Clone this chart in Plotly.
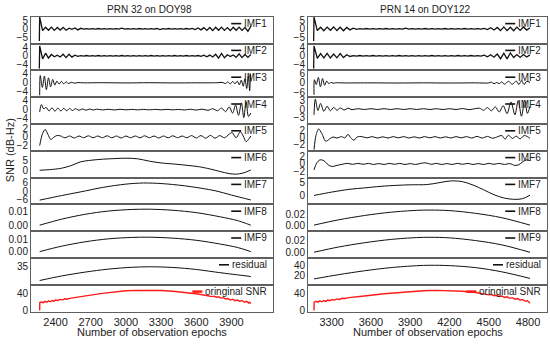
import plotly.graph_objects as go

# ------------------------------------------------------------------ data
TITLES = ["PRN 32 on DOY98", "PRN 14 on DOY122"]
X_TITLE = "Number of observation epochs"
Y_TITLE = "SNR (dB-Hz)"
PANEL_NAMES = ["IMF1", "IMF2", "IMF3", "IMF4", "IMF5", "IMF6", "IMF7",
               "IMF8", "IMF9", "residual", "oringinal SNR"]

X_TICKS_L = [2400, 2700, 3000, 3300, 3600, 3900]
X_TICKS_R = [3300, 3600, 3900, 4200, 4500, 4800]
X_RANGE_L = [2191, 4254]
X_RANGE_R = [3119, 4945]

# epochs of the densely sampled (noise-like) components
NOISE_EPOCHS_L = list(range(2265, 4066, 25))
NOISE_EPOCHS_R = list(range(3165, 4816, 25))

# ---- left satellite: PRN 32 on DOY98
IMF1_L_START = [(2262, -7.0)]
IMF1_L_VALUES = [6.8, -1.0, 0.9, -0.8, 1.0, -0.9, 0.8, -0.7, 0.9, -0.8,
                 0.4, -0.3, 0.5, -0.6, 0.3, -0.15, 0.15, -0.2, 0.15, -0.15,
                 0.2, -0.15, 0.15, -0.2, 0.15, -0.15, 0.15, -0.2, 0.4, -0.15,
                 0.15, -0.2, 0.15, -0.15, 0.2, -0.15, 0.15, -0.2, 0.15, -0.15,
                 0.2, -0.4, 0.15, -0.15, 0.2, -0.15, 0.15, -0.2, 0.15, -0.15,
                 0.2, -0.15, 0.3, -0.4, 0.5, -0.6, 0.7, -0.9, 0.8, -1.0,
                 0.9, -0.8, 1.0, -0.9, 0.7, -1.0, 0.9, -0.8, 1.0, -0.9,
                 0.8, -1.4, 1.4]
IMF2_L_START = [(2262, -5.8)]
IMF2_L_VALUES = [4.5, -1.4, 1.2, -1.0, 0.6, -0.4, 0.3, -0.5, 0.7, -0.8,
                 0.7, -0.6, 0.3, -0.2,
                 0.12, -0.1, 0.15, -0.12, 0.1, -0.12, 0.15, -0.1, 0.12, -0.15,
                 0.1, -0.12, 0.12, -0.1, 0.15, -0.12, 0.1, -0.15, 0.12, -0.1,
                 0.12, -0.15, 0.1, -0.12, 0.15, -0.1, 0.12, -0.12, 0.1, -0.15,
                 0.12, -0.1, 0.15, -0.12, 0.1, -0.12, 0.15, -0.1, 0.12, -0.15,
                 0.15,
                 -0.25, 0.3, -0.4, 0.35, -0.5, 0.7, -1.0, 1.1, -0.9, 0.5,
                 -0.3, 0.4, -0.7, 0.9, -0.8, 0.6, -0.7, 0.6]
IMF3_L = [(2265, -5.5), (2270, 3.2), (2288, -2.0), (2305, 3.0), (2322, -3.0),
          (2340, 2.2), (2358, -1.8), (2376, 1.5), (2394, -1.0), (2412, 0.8),
          (2430, -0.6), (2450, 0.6), (2470, -0.4), (2490, 0.4), (2512, -0.3),
          (2535, 0.25), (2560, -0.15), (2590, 0.1), (2640, 0.0), (2800, 0.05),
          (3000, -0.05), (3200, 0.05), (3400, -0.05), (3600, 0.0), (3780, 0.05),
          (3820, 0.2), (3850, -0.3), (3870, 0.4), (3890, -0.5), (3910, 0.6),
          (3930, -0.4), (3950, 0.7), (3967, -0.9), (3984, 1.2), (4000, -1.5),
          (4015, 1.8), (4030, -2.5), (4044, 3.0), (4055, -3.5), (4062, 4.0),
          (4065, 0.5)]
IMF4_L = [(2265, -1.0), (2280, 2.2), (2300, 0.3), (2320, 1.0), (2345, -0.6),
          (2370, 0.8), (2395, -0.7), (2420, 0.7), (2445, -0.6), (2470, 0.6),
          (2495, -0.5), (2520, 0.5), (2545, -0.4), (2570, 0.4), (2600, -0.3),
          (2630, 0.3), (2660, -0.25), (2690, 0.25), (2720, -0.2), (2750, 0.2),
          (2800, -0.15), (2850, 0.15), (2900, -0.15), (2950, 0.15), (3000, -0.1),
          (3050, 0.1), (3100, -0.1), (3150, 0.1), (3200, -0.1), (3250, 0.1),
          (3300, -0.1), (3350, 0.1), (3400, -0.1), (3450, 0.1), (3500, -0.15),
          (3550, 0.15), (3600, -0.2), (3650, 0.2), (3700, -0.3), (3740, 0.4),
          (3780, -0.5), (3815, 0.7), (3850, -0.9), (3880, 1.2), (3910, -1.5),
          (3935, 2.0), (3960, -2.5), (3985, 3.0), (4005, -3.5), (4025, 3.5),
          (4045, -3.0), (4065, -1.5)]
IMF5_L = [(2265, -2.0), (2290, 0.8), (2312, 1.7), (2335, 0.6), (2360, -0.6),
          (2385, -0.1), (2410, 0.3), (2440, 0.25), (2480, -0.2), (2520, 0.2),
          (2560, -0.25), (2600, 0.2), (2640, -0.2), (2680, 0.25), (2720, -0.2),
          (2760, 0.2), (2800, -0.2), (2840, 0.25), (2880, -0.2), (2920, 0.2),
          (2960, -0.25), (3000, 0.2), (3040, -0.2), (3080, 0.2), (3120, -0.2),
          (3160, 0.25), (3200, -0.2), (3240, 0.2), (3280, -0.25), (3320, 0.2),
          (3360, -0.2), (3400, 0.25), (3440, -0.2), (3480, 0.2), (3520, -0.2),
          (3560, 0.3), (3600, -0.25), (3640, 0.3), (3680, -0.3), (3720, 0.35),
          (3760, -0.3), (3800, 0.3), (3840, -0.2), (3880, 0.6), (3905, 1.0),
          (3940, -0.2), (3975, 1.2), (4000, 0.2), (4025, -1.1), (4045, -0.6),
          (4065, 0.2)]
IMF6_L = [(2265, 0.0), (2350, 0.3), (2450, 1.0), (2540, 2.5), (2610, 4.2),
          (2680, 4.9), (2780, 5.5), (2900, 5.9), (3000, 6.1), (3100, 5.8),
          (3200, 4.6), (3300, 3.7), (3420, 3.1), (3520, 2.5), (3620, 1.8),
          (3720, 0.6), (3800, -0.6), (3880, -1.7), (3940, -2.0), (4000, -1.4),
          (4065, 0.1)]
IMF7_L = [(2265, -6.2), (2450, -3.0), (2610, -0.4), (2800, 2.8), (3000, 5.2),
          (3150, 6.0), (3300, 5.6), (3500, 4.0), (3760, 0.5), (3900, -2.6),
          (4065, -6.1)]
IMF8_L = [(2265, 0.0), (2450, 0.0045), (2650, 0.0082), (2850, 0.0107),
          (3050, 0.0119), (3200, 0.0121), (3400, 0.0113), (3600, 0.0095),
          (3800, 0.0064), (3950, 0.0035), (4065, 0.0)]
IMF9_L = [(2265, 0.0), (2450, 0.0045), (2650, 0.0082), (2850, 0.0107),
          (3050, 0.0119), (3200, 0.0121), (3400, 0.0113), (3600, 0.0095),
          (3800, 0.0064), (3950, 0.0035), (4065, 0.0)]
RESIDUAL_L = [(2265, 26.8), (2450, 29.5), (2650, 31.8), (2850, 33.6),
              (3050, 34.7), (3200, 35.0), (3400, 34.6), (3600, 33.4),
              (3800, 31.5), (3950, 30.2), (4065, 29.2)]
SNR_L = [(2265, 0.0), (2266, 18.5), (2280, 19.5), (2295, 18.0), (2310, 21.0),
         (2325, 19.0), (2340, 22.0), (2355, 20.0), (2370, 23.0), (2385, 21.5),
         (2400, 24.0), (2420, 23.0), (2440, 25.5), (2460, 24.5), (2480, 27.0),
         (2500, 26.0), (2520, 28.0), (2550, 29.0), (2600, 31.0), (2700, 35.5),
         (2800, 39.5), (2900, 43.0), (3000, 45.5), (3100, 46.5), (3200, 46.8),
         (3300, 46.0), (3400, 44.5), (3500, 42.0), (3600, 38.5), (3700, 34.0),
         (3730, 32.0), (3750, 33.0), (3770, 30.5), (3790, 31.5), (3810, 28.5),
         (3830, 29.5), (3850, 26.5), (3870, 27.5), (3890, 24.0), (3910, 26.0),
         (3930, 22.5), (3950, 24.0), (3970, 21.0), (3990, 23.0), (4010, 19.0),
         (4030, 21.0), (4045, 17.0), (4055, 19.0), (4065, 16.0)]

# ---- right satellite: PRN 14 on DOY122
IMF1_R_START = [(3162, -7.0)]
IMF1_R_VALUES = [6.8, -1.0, 0.9, -1.1, 1.0, -0.8, 1.1, -1.0, 0.9, -1.1,
                 0.8, -0.6, 0.4, -0.3,
                 0.15, -0.15, 0.2, -0.15, 0.15, -0.2, 0.15, -0.15, 0.2, -0.15,
                 0.15, -0.2, 0.15, -0.15, 0.4, -0.15, 0.15, -0.2, 0.15, -0.15,
                 0.2, -0.15, 0.15, -0.2, 0.15, -0.15, 0.2, -0.15, 0.15, -0.2,
                 0.15, -0.15, 0.2, -0.15, 0.15, -0.2, 0.15, -0.15, 0.3, -0.4,
                 0.6, -0.7, 0.8,
                 -1.0, 1.1, -1.0, 0.9, -1.1, 1.0, -0.9, 1.1, -0.7, 0.6]
IMF2_R_START = [(3162, -5.8)]
IMF2_R_VALUES = [4.5, -1.1, 1.0, -0.9, 1.1, -1.0, 0.8, -0.9, 1.0, -0.8,
                 0.5, -0.3,
                 0.12, -0.1, 0.15, -0.12, 0.1, -0.12, 0.15, -0.1, 0.12, -0.15,
                 0.1, -0.12, 0.12, -0.1, 0.15, -0.12, 0.1, -0.15, 0.12, -0.1,
                 0.12, -0.15, 0.1, -0.12, 0.15, -0.1, 0.12, -0.12, 0.1, -0.15,
                 0.12, -0.1, 0.15, -0.12, 0.1, -0.12, 0.15, -0.1, 0.12, -0.15,
                 0.3, -0.4, 0.5, -0.6, 0.8,
                 -1.3, 1.2, -1.4, 1.3, -0.8, 0.6, -0.7, 0.6, -0.5, 0.45]
IMF3_R = [(3165, -7.5), (3168, 2.0), (3182, -1.0), (3198, 3.5), (3214, -2.5),
          (3230, 2.8), (3246, -1.5), (3262, 1.2), (3278, -0.5), (3294, 0.4),
          (3310, -0.2), (3330, 0.1), (3400, 0.0), (3600, 0.05), (3800, -0.05),
          (4000, 0.05), (4200, -0.05), (4400, 0.05), (4500, 0.0), (4520, 0.5),
          (4540, -0.5), (4560, 0.3), (4580, -0.4), (4600, 0.6), (4620, -0.8),
          (4650, 1.0), (4680, -0.8), (4710, 1.2), (4730, -1.0), (4750, 1.5),
          (4770, -1.0), (4790, 1.0), (4815, 0.3)]
IMF4_R = [(3165, -2.0), (3175, 3.5), (3195, -0.5), (3215, 2.0), (3240, -0.8),
          (3265, 1.0), (3290, -0.6), (3315, 0.6), (3340, -0.4), (3365, 0.4),
          (3395, -0.3), (3425, 0.3), (3455, -0.2), (3500, 0.15), (3550, -0.15),
          (3600, 0.15), (3650, -0.15), (3700, 0.15), (3750, -0.15), (3800, 0.15),
          (3850, -0.15), (3900, 0.15), (3950, -0.15), (4000, 0.15), (4050, -0.15),
          (4100, 0.15), (4150, -0.15), (4200, 0.15), (4250, -0.15), (4300, 0.2),
          (4350, -0.2), (4400, 0.2), (4430, 0.3), (4460, -0.4), (4490, 0.5),
          (4520, -0.6), (4550, 0.8), (4580, -1.0), (4610, 1.2), (4640, -1.6),
          (4670, 2.5), (4700, -2.0), (4725, 3.0), (4750, -2.5), (4775, 3.2),
          (4795, -1.5), (4815, 1.0)]
IMF5_R = [(3165, -3.4), (3180, 0.5), (3200, 2.3), (3225, 1.0), (3255, -1.1),
          (3285, -0.4), (3310, 0.1), (3340, -0.2), (3375, 0.2), (3400, -0.15),
          (3425, 0.8), (3445, -0.1), (3470, -0.8), (3495, 0.1), (3530, 0.2),
          (3570, -0.15), (3610, 0.2), (3650, -0.2), (3690, 0.15), (3730, -0.2),
          (3770, 0.2), (3810, -0.15), (3850, 0.2), (3890, -0.2), (3930, 0.15),
          (3970, -0.2), (4010, 0.2), (4050, -0.15), (4090, 0.2), (4130, -0.2),
          (4170, 0.15), (4210, -0.2), (4250, 0.2), (4290, -0.15), (4330, 0.2),
          (4370, -0.2), (4410, 0.25), (4450, -0.2), (4490, 0.25), (4530, -0.25),
          (4570, 0.2), (4600, 0.5), (4625, -0.5), (4650, 0.6), (4680, -0.3),
          (4710, 0.3), (4740, -0.4), (4770, 0.5), (4795, 0.2), (4815, -0.3)]
IMF6_R = [(3165, -1.6), (3185, 0.2), (3210, 1.1), (3240, 0.9), (3275, -0.3),
          (3305, -0.7), (3340, -0.4), (3380, -0.1), (3420, 0.15), (3460, -0.1),
          (3500, 0.15), (3540, -0.1), (3580, 0.15), (3620, -0.15), (3660, 0.1),
          (3700, -0.15), (3740, 0.15), (3780, -0.1), (3820, 0.15), (3860, -0.15),
          (3900, 0.1), (3940, -0.15), (3980, 0.15), (4020, 0.3), (4060, -0.1),
          (4100, 0.15), (4140, -0.15), (4180, 0.1), (4220, -0.15), (4260, 0.15),
          (4300, -0.1), (4340, 0.15), (4380, -0.15), (4420, 0.1), (4460, -0.15),
          (4500, 0.15), (4540, -0.1), (4580, 0.15), (4620, -0.15), (4660, 0.1),
          (4700, -0.4), (4730, -0.2), (4760, 0.6), (4790, 1.1), (4815, 0.9)]
IMF7_R = [(3165, 0.0), (3300, 1.3), (3440, 2.4), (3550, 2.9), (3670, 3.5),
          (3800, 3.9), (3900, 4.1), (4030, 4.2), (4120, 4.9), (4210, 5.6),
          (4300, 5.3), (4380, 4.0), (4460, 2.2), (4540, 0.3), (4610, -0.9),
          (4700, -1.5), (4760, -1.2), (4815, 0.1)]
IMF8_R = [(3165, 0.0), (3350, 0.0095), (3550, 0.0175), (3750, 0.0235),
          (3950, 0.027), (4050, 0.0275), (4200, 0.0265), (4400, 0.0215),
          (4600, 0.0135), (4815, 0.0)]
IMF9_R = [(3165, 0.0), (3350, 0.009), (3550, 0.0165), (3750, 0.0222),
          (3950, 0.0255), (4050, 0.026), (4200, 0.025), (4400, 0.0203),
          (4600, 0.0128), (4815, 0.0)]
RESIDUAL_R = [(3165, 14.0), (3350, 22.0), (3550, 29.5), (3750, 35.5),
              (3950, 39.2), (4050, 40.0), (4200, 39.3), (4400, 35.5),
              (4600, 27.5), (4815, 15.0)]
SNR_R = [(3165, 0.0), (3166, 19.0), (3180, 21.0), (3195, 19.0), (3210, 22.0),
         (3225, 20.0), (3240, 23.0), (3255, 21.0), (3270, 24.0), (3285, 22.5),
         (3300, 25.0), (3320, 24.0), (3340, 26.5), (3360, 25.5), (3380, 28.0),
         (3400, 27.5), (3430, 29.5), (3470, 30.5), (3550, 33.5), (3700, 38.5),
         (3850, 42.5), (4000, 45.5), (4100, 46.5), (4200, 46.0), (4300, 44.5),
         (4400, 41.5), (4480, 38.0), (4500, 36.0), (4520, 37.0), (4540, 34.0),
         (4560, 35.0), (4580, 32.0), (4600, 33.5), (4620, 30.0), (4640, 31.5),
         (4660, 28.0), (4680, 29.5), (4700, 26.0), (4720, 27.5), (4740, 24.0),
         (4760, 25.0), (4780, 21.0), (4795, 22.5), (4805, 19.0), (4815, 17.0)]

# y-axis tick labels and ranges per panel
YTICKS_L = [["5", "0", "-5"], ["4", "0", "-4"], ["4", "0", "-4"], ["4", "0", "-4"],
            ["2", "0", "-2"], ["5", "0"], ["6", "0", "-6"], ["0.01", "0.00"],
            ["0.01", "0.00"], ["35"], ["40", "0"]]
YRANGE_L = [[-8.5, 7.0], [-6.6, 5.6], [-6.3, 5.5], [-6.3, 5.5], [-3.2, 3.0],
            [-3.7, 9.9], [-9.2, 9.9], [-0.0045, 0.0158], [-0.0053, 0.0172],
            [24.3, 40.3], [-2.5, 59.5]]
YTICKS_R = [["5", "0", "-5"], ["4", "0", "-4"], ["6", "0", "-6"], ["3", "0", "-3"],
            ["2", "0", "-2"], ["2", "0", "-2"], ["5", "0"], ["0.02", "0.00"],
            ["0.02", "0.00"], ["40", "20"], ["40", "0"]]
YRANGE_R = [[-8.5, 7.0], [-6.6, 5.6], [-9.0, 8.0], [-5.2, 4.2], [-3.7, 3.7],
            [-3.7, 3.6], [-3.4, 6.9], [-0.011, 0.038], [-0.0098, 0.0367],
            [3.0, 54.0], [-2.5, 59.5]]

IMF1_L = IMF1_L_START + list(zip(NOISE_EPOCHS_L, IMF1_L_VALUES))
IMF2_L = IMF2_L_START + list(zip(NOISE_EPOCHS_L, IMF2_L_VALUES))
IMF1_R = IMF1_R_START + list(zip(NOISE_EPOCHS_R, IMF1_R_VALUES))
IMF2_R = IMF2_R_START + list(zip(NOISE_EPOCHS_R, IMF2_R_VALUES))

SERIES_L = [IMF1_L, IMF2_L, IMF3_L, IMF4_L, IMF5_L, IMF6_L, IMF7_L, IMF8_L,
            IMF9_L, RESIDUAL_L, SNR_L]
SERIES_R = [IMF1_R, IMF2_R, IMF3_R, IMF4_R, IMF5_R, IMF6_R, IMF7_R, IMF8_R,
            IMF9_R, RESIDUAL_R, SNR_R]

# ------------------------------------------------------------------ layout / style
W, H = 550, 344
FONT = "Arial, Liberation Sans, sans-serif"
COL_PX = [(31, 273), (308, 547)]
TOP_PX, BOT_PX = 15, 315
NROW = 11
ROW_H = (BOT_PX - TOP_PX) / NROW
FRAME = "#5f5f5f"
LINE_BLACK = "#111111"
RED = "#ff1a1a"
TXT = "#222222"

CW = {'I': 278, 'M': 833, 'F': 611, 'r': 333, 'e': 556, 's': 500, 'i': 222,
      'd': 556, 'u': 556, 'a': 556, 'l': 222, 'o': 556, 'n': 556, 'g': 556,
      ' ': 278, 'S': 667, 'N': 722, 'R': 722}


def text_w(s, size):
    return sum(CW.get(ch, 556) for ch in s) * size / 1000.0


cols = [
    dict(series=SERIES_L, yticks=YTICKS_L, yrange=YRANGE_L, xr=X_RANGE_L, xt=X_TICKS_L),
    dict(series=SERIES_R, yticks=YTICKS_R, yrange=YRANGE_R, xr=X_RANGE_R, xt=X_TICKS_R),
]
SMOOTH = {2, 3, 4, 5, 6, 7, 8, 9}
NOISY = {0, 1}

fig = go.Figure()
layout = dict(width=W, height=H, margin=dict(l=0, r=0, t=0, b=0),
              paper_bgcolor="white", plot_bgcolor="white", showlegend=False,
              font=dict(family=FONT, color=TXT, size=11))
shapes, annos = [], []

for c, col in enumerate(cols):
    x0p, x1p = COL_PX[c]
    for r in range(NROW):
        n = c * NROW + r + 1
        pts = col['series'][r]
        xs = [p[0] for p in pts]
        ys = [p[1] for p in pts]
        is_snr = (r == NROW - 1)
        fig.add_trace(go.Scatter(
            x=xs, y=ys, mode='lines', name=PANEL_NAMES[r],
            line=dict(color=RED if is_snr else LINE_BLACK,
                      width=1.4 if is_snr else (1.3 if r in NOISY else 1.0),
                      shape='spline' if r in SMOOTH else 'linear',
                      smoothing=0.9),
            xaxis=f'x{n}', yaxis=f'y{n}', hoverinfo='skip'))

        top = TOP_PX + r * ROW_H
        bot = top + ROW_H
        xk = 'xaxis' if n == 1 else f'xaxis{n}'
        yk = 'yaxis' if n == 1 else f'yaxis{n}'
        layout[xk] = dict(domain=[x0p / W, x1p / W], anchor=f'y{n}', range=col['xr'],
                          showline=True, mirror=True, linecolor=FRAME, linewidth=1,
                          showgrid=False, zeroline=False, ticks='',
                          tickvals=col['xt'], showticklabels=(r == NROW - 1),
                          tickfont=dict(size=11, family=FONT, color=TXT))
        labels = col['yticks'][r]
        layout[yk] = dict(domain=[1 - bot / H, 1 - top / H], anchor=f'x{n}',
                          range=col['yrange'][r], showline=True, mirror=True,
                          linecolor=FRAME, linewidth=1, showgrid=False,
                          zeroline=False, ticks='',
                          tickvals=[float(t) for t in labels],
                          ticktext=[t.replace('-', '\u2212') for t in labels],
                          tickfont=dict(size=10, family=FONT, color=TXT))

        # per-panel legend: short line + label, top-right of the panel
        name = PANEL_NAMES[r]
        tw = text_w(name, 10)
        tx_right = x1p - 4
        ty = top + 7
        lx1 = tx_right - tw - 5
        lx0 = lx1 - 10
        shapes.append(dict(type='line', xref='paper', yref='paper',
                           x0=lx0 / W, x1=lx1 / W, y0=1 - ty / H, y1=1 - ty / H,
                           line=dict(color=RED if is_snr else LINE_BLACK,
                                     width=2.5 if is_snr else 1.6)))
        annos.append(dict(text=name, xref='paper', yref='paper', x=tx_right / W,
                          y=1 - ty / H, xanchor='right', yanchor='middle',
                          showarrow=False,
                          font=dict(size=10, family=FONT, color=TXT)))

    cx = (x0p + x1p) / 2
    annos.append(dict(text=TITLES[c], xref='paper', yref='paper', x=(cx - 3) / W,
                      y=1 - 7.5 / H, xanchor='center', yanchor='middle',
                      showarrow=False, font=dict(size=10, family=FONT, color=TXT)))
    annos.append(dict(text=X_TITLE, xref='paper', yref='paper', x=cx / W,
                      y=1 - 336 / H, xanchor='center', yanchor='middle',
                      showarrow=False, font=dict(size=11, family=FONT, color=TXT)))

annos.append(dict(text=Y_TITLE, xref='paper', yref='paper', x=10 / W,
                  y=1 - 151 / H, xanchor='center', yanchor='middle', textangle=-90,
                  showarrow=False, font=dict(size=11, family=FONT, color=TXT)))

layout['shapes'] = shapes
layout['annotations'] = annos
fig.update_layout(**layout)
fig.write_html("out.html", config={'displayModeBar': False},
               post_script="document.body.style.margin='0';document.body.style.padding='0';")
